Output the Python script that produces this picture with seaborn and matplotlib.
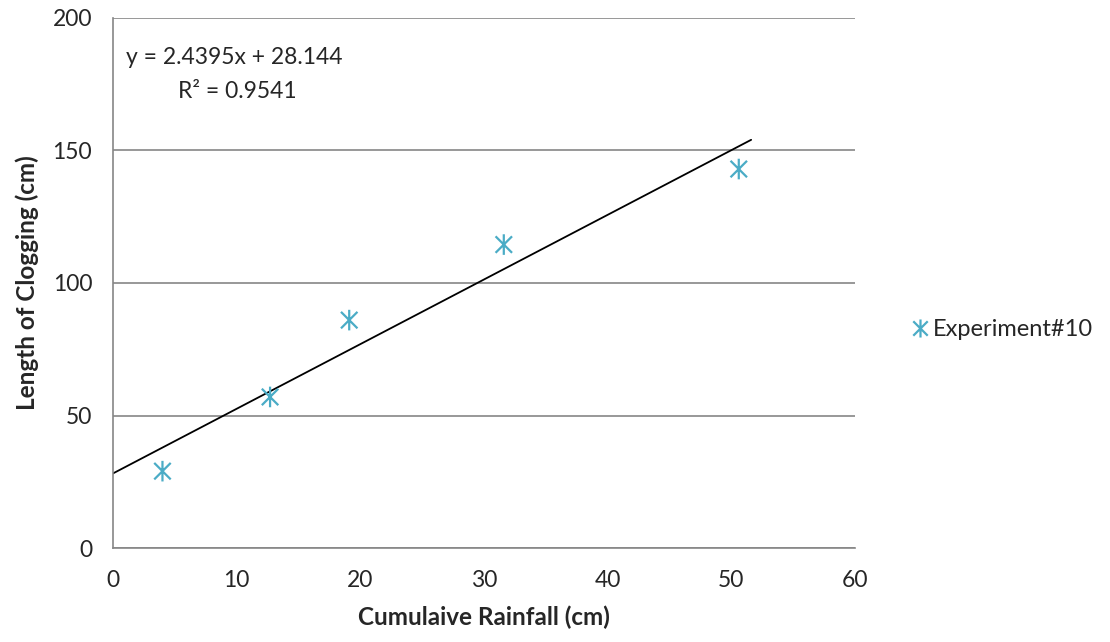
import numpy as np
import matplotlib
matplotlib.use("Agg")
import matplotlib.pyplot as plt
from matplotlib.path import Path
import seaborn as sns
import pandas as pd

# data
rainfall = [4.0, 12.7, 19.1, 31.6, 50.6]
clogging = [29.0, 57.0, 86.0, 114.5, 143.0]
series_name = "Experiment#10"
slope, intercept = 2.4395, 28.144
r_squared = 0.9541
trend_x = [0.0, 51.6]
x_ticks = [0, 10, 20, 30, 40, 50, 60]
y_ticks = [0, 50, 100, 150, 200]

df = pd.DataFrame({"rain": rainfall, "clog": clogging, "series": series_name})

sns.set_style("white")
plt.rcParams["font.family"] = ["Lato", "DejaVu Sans"]

# Excel-style asterisk marker: vertical bar plus an X
star = Path(
    [(0, -1), (0, 1), (-0.8, -0.8), (0.8, 0.8), (-0.8, 0.8), (0.8, -0.8)],
    [Path.MOVETO, Path.LINETO, Path.MOVETO, Path.LINETO, Path.MOVETO, Path.LINETO],
)

teal = "#4BACC6"
grid_c = "#868686"

fig = plt.figure(figsize=(11.1, 6.42), dpi=100)
ax = fig.add_axes([0.1018, 0.1464, 0.6685, 0.8256])

sns.scatterplot(data=df, x="rain", y="clog", hue="series", palette=[teal],
                marker=star, s=220, linewidth=1.6, facecolor="none",
                edgecolor=teal, ax=ax, legend=False, zorder=3)

tx = np.array(trend_x)
ax.plot(tx, slope * tx + intercept, color="black", lw=1.3, zorder=2)

ax.set_xlim(0, 60)
ax.set_ylim(0, 200)
ax.set_xticks(x_ticks)
ax.set_yticks(y_ticks)
ax.yaxis.grid(True, color=grid_c, lw=1.2)
ax.set_axisbelow(True)
for s in ["top", "right"]:
    ax.spines[s].set_visible(False)
for s in ["left", "bottom"]:
    ax.spines[s].set_color(grid_c)
    ax.spines[s].set_linewidth(1.2)
ax.tick_params(axis="both", direction="out", length=7, width=1.2, color=grid_c,
               labelsize=16.5)
ax.tick_params(axis="x", pad=9)
ax.tick_params(axis="y", pad=8)

ax.set_xlabel("Cumulaive Rainfall (cm)", fontsize=17.5, fontweight="bold", labelpad=10)
ax.set_ylabel("Length of Clogging (cm)", fontsize=17.5, fontweight="bold", labelpad=10)

ax.text(0.017, 0.925, f"y = {slope}x + {intercept}", transform=ax.transAxes,
        fontsize=16.5, va="center", ha="left")
ax.text(0.087, 0.862, f"R² = {r_squared}", transform=ax.transAxes,
        fontsize=16.5, va="center", ha="left")

handle = plt.Line2D([], [], ls="none", marker=star, markersize=13, mew=1.6,
                    markeredgecolor=teal, markerfacecolor="none")
fig.legend([handle], [series_name], loc="center left",
           bbox_to_anchor=(0.803, 0.487), frameon=False, fontsize=17,
           handlelength=0.6, handletextpad=0.25)

fig.savefig("out.png", dpi=100)
